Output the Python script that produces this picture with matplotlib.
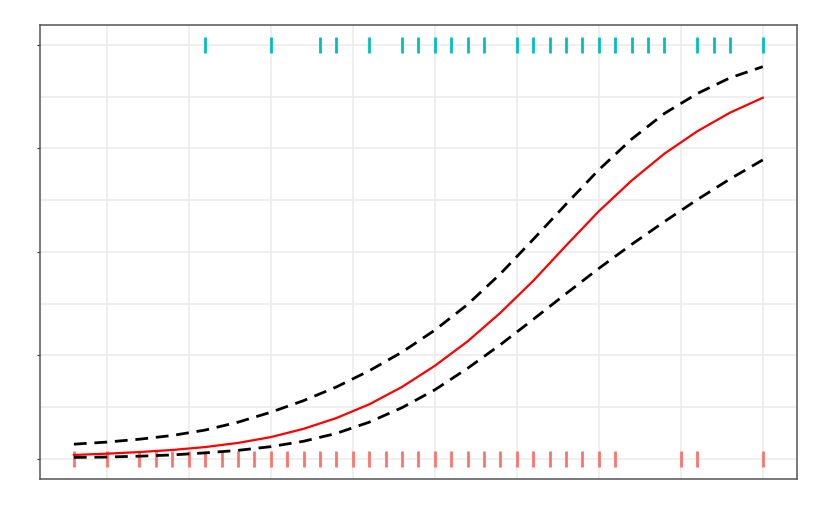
import matplotlib.pyplot as plt
import numpy as np

# ----- DATA -----

# fitted probability curve and its confidence band
grid_x = [8, 10, 12, 14, 16, 18, 20, 22, 24, 26, 28, 30,
          32, 34, 36, 38, 40, 42, 44, 46, 48, 50]
fit_p = [0.010, 0.013, 0.017, 0.022, 0.029, 0.039, 0.053, 0.073, 0.099, 0.132, 0.174, 0.225,
         0.284, 0.353, 0.430, 0.515, 0.598, 0.672, 0.737, 0.791, 0.836, 0.872]
upper_p = [0.036, 0.041, 0.048, 0.057, 0.070, 0.089, 0.113, 0.141, 0.174, 0.213, 0.258, 0.311,
           0.373, 0.447, 0.530, 0.615, 0.698, 0.772, 0.834, 0.882, 0.920, 0.947]
lower_p = [0.004, 0.005, 0.007, 0.010, 0.015, 0.021, 0.030, 0.043, 0.062, 0.089, 0.124, 0.167,
           0.219, 0.276, 0.337, 0.399, 0.460, 0.518, 0.573, 0.626, 0.676, 0.722]

# observed outcomes (rug marks)
x_zero = [8, 10] + list(range(12, 42)) + [45, 46, 50]
x_one = [16, 20, 23, 24, 26, 28, 29, 30, 31, 32, 33, 35, 36, 37, 38,
         39, 40, 41, 42, 43, 44, 46, 47, 48, 50]

# ----- PLOT -----

fig = plt.figure(figsize=(8.32, 5.12), dpi=100)
ax = fig.add_axes([0.048, 0.0645, 0.910, 0.887])

ax.set_xlim(5.93, 52.09)
ax.set_ylim(-0.048, 1.048)

# grid like theme_bw
for v in np.arange(10, 51, 5):
    ax.axvline(v, color="#ebebeb", lw=1.1, zorder=0)
for v in np.arange(0, 1.01, 0.125):
    ax.axhline(v, color="#ebebeb", lw=1.1, zorder=0)

# rugs
ax.plot(x_zero, np.zeros(len(x_zero)), ls="none", marker="|", ms=11.5,
        mew=2.0, color="#F8766D", zorder=3)
ax.plot(x_one, np.ones(len(x_one)), ls="none", marker="|", ms=11.5,
        mew=2.0, color="#00BFC4", zorder=3)

# band and fit
(up,) = ax.plot(grid_x, upper_p, color="black", lw=2.0, zorder=4)
(lo,) = ax.plot(grid_x, lower_p, color="black", lw=2.0, zorder=4)
up.set_dashes([4.6, 2.8])
lo.set_dashes([4.6, 2.8])
ax.plot(grid_x, fit_p, color="red", lw=1.6, zorder=5)

ax.set_yticks([0, 0.25, 0.5, 0.75, 1.0])
ax.set_yticklabels([])
ax.set_xticks([])
ax.tick_params(axis="y", length=2, width=0.8, color="#333333")
for s in ax.spines.values():
    s.set_color("#555555")
    s.set_linewidth(1.1)

fig.savefig("out.png", dpi=100)
